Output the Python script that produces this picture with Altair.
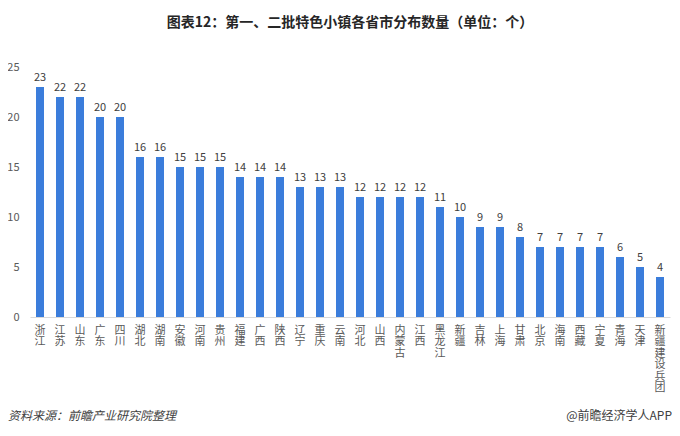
import altair as alt
import pandas as pd

provinces = ["浙江", "江苏", "山东", "广东", "四川", "湖北", "湖南", "安徽", "河南", "贵州",
             "福建", "广西", "陕西", "辽宁", "重庆", "云南", "河北", "山西", "内蒙古", "江西",
             "黑龙江", "新疆", "吉林", "上海", "甘肃", "北京", "海南", "西藏", "宁夏", "青海",
             "天津", "新疆建设兵团"]
counts = [23, 22, 22, 20, 20, 16, 16, 15, 15, 15,
          14, 14, 14, 13, 13, 13, 12, 12, 12, 12,
          11, 10, 9, 9, 8, 7, 7, 7, 7, 6,
          5, 4]
y_ticks = [0, 5, 10, 15, 20, 25]

title_text = "图表12：第一、二批特色小镇各省市分布数量（单位：个）"
source_text = "资料来源：前瞻产业研究院整理"
brand_text = "@前瞻经济学人APP"

df = pd.DataFrame({"province": provinces, "count": counts})
FONT = "Noto Sans CJK SC"

base = alt.Chart(df)

bars = base.mark_bar(color="#3b7ddb").encode(
    x=alt.X("province:N", sort=provinces,
            scale=alt.Scale(paddingInner=0.6, paddingOuter=0.3),
            axis=alt.Axis(title=None, labelAngle=0, labelExpr="split(datum.label, '')",
                          labelLineHeight=11.5, labelBaseline="top", labelPadding=7,
                          labelFont=FONT, labelFontSize=11, labelColor="#595959",
                          ticks=False, domainColor="#d9d9d9", labelOverlap=False)),
    y=alt.Y("count:Q", scale=alt.Scale(domain=[0, 25]),
            axis=alt.Axis(title=None, values=y_ticks, grid=False, domain=False, ticks=False,
                          labelPadding=11, labelFont=FONT, labelFontSize=11,
                          labelColor="#595959")),
)

labels = base.mark_text(dy=-9, font=FONT, fontSize=11, color="#404040").encode(
    x=alt.X("province:N", sort=provinces),
    y="count:Q",
    text="count:Q",
)

source = alt.Chart(pd.DataFrame({"t": [source_text]})).mark_text(
    font=FONT, fontSize=12, fontStyle="italic", color="#404040", align="left", baseline="middle"
).encode(x=alt.value(-22), y=alt.value(359), text="t:N")

brand = alt.Chart(pd.DataFrame({"t": [brand_text]})).mark_text(
    font=FONT, fontSize=12, color="#404040", align="right", baseline="middle"
).encode(x=alt.value(642), y=alt.value(359), text="t:N")

chart = alt.layer(bars, labels, source, brand).properties(
    width=640, height=260,
    padding={"left": 22, "top": 49, "right": 2, "bottom": 110},
    autosize=alt.AutoSizeParams(type="none"),
    title=alt.TitleParams(title_text, font=FONT, fontSize=14, fontWeight="bold",
                          color="#262626", anchor="middle", offset=27),
).configure_view(stroke=None)

chart.save("out.html", embed_options={"renderer": "svg", "actions": False})
